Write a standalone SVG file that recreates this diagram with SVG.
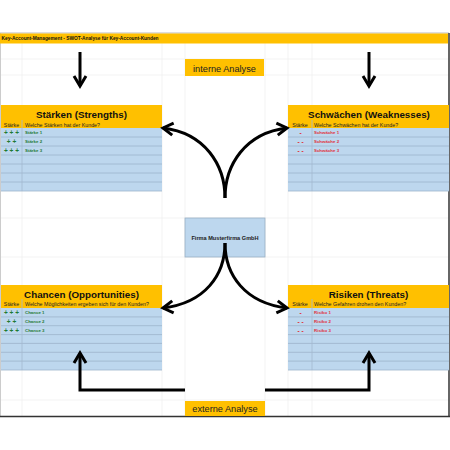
<svg xmlns="http://www.w3.org/2000/svg" width="450" height="450" viewBox="0 0 450 450">
<defs>
<style>
.grid{stroke:#F0F0F0;stroke-width:0.8}
.hdr{fill:#FFC000}
.body{fill:#BDD7EE}
.row{stroke:#9DB4CC;stroke-width:0.8}
.col{stroke:#A3B9CF;stroke-width:0.8}
.title{font-family:"Liberation Sans",Arial,sans-serif;font-weight:bold;font-size:9.8px;fill:#111;text-anchor:middle}
.sub{font-family:"Liberation Sans",Arial,sans-serif;font-size:5.3px;fill:#222}
.mid{text-anchor:middle}
.item{font-family:"Liberation Sans",Arial,sans-serif;font-size:4.4px;font-weight:bold}
.sym{font-family:"Liberation Sans",Arial,sans-serif;font-size:6.5px;font-weight:bold;text-anchor:middle}
.g{fill:#1F7A33}
.r{fill:#E0303A}
.lbl{font-family:"Liberation Sans",Arial,sans-serif;font-size:9.2px;fill:#222;text-anchor:middle}
.conn{fill:none;stroke:#000;stroke-width:3;stroke-linejoin:miter}
</style>
<marker id="ah" viewBox="0 0 14 14" markerWidth="14" markerHeight="14" refX="12.5" refY="7" orient="auto" markerUnits="userSpaceOnUse" overflow="visible">
<path d="M2.5,1 L12.5,7 L2.5,13" fill="none" stroke="#000" stroke-width="3"/>
</marker>
</defs>
<rect x="0" y="0" width="450" height="450" fill="#fff"/>
<g id="grid">
<line class="grid" x1="22" y1="43" x2="22" y2="416"/>
<line class="grid" x1="162" y1="43" x2="162" y2="416"/>
<line class="grid" x1="185" y1="43" x2="185" y2="416"/>
<line class="grid" x1="265" y1="43" x2="265" y2="416"/>
<line class="grid" x1="288" y1="43" x2="288" y2="416"/>
<line class="grid" x1="312" y1="43" x2="312" y2="416"/>
<line class="grid" x1="0" y1="59" x2="449" y2="59"/>
<line class="grid" x1="0" y1="75" x2="449" y2="75"/>
<line class="grid" x1="0" y1="218" x2="449" y2="218"/>
<line class="grid" x1="0" y1="257" x2="449" y2="257"/>
<line class="grid" x1="0" y1="400" x2="449" y2="400"/>
<line x1="0.5" y1="33" x2="0.5" y2="416" stroke="#CCCCCC" stroke-width="1"/>
<line x1="0" y1="33" x2="449" y2="33" stroke="#BBBBBB" stroke-width="1"/>
<line x1="449" y1="33" x2="449" y2="417" stroke="#333" stroke-width="1.5"/>
<line x1="0" y1="416.5" x2="450" y2="416.5" stroke="#333" stroke-width="1.5"/>
</g>
<g id="title-bar">
<rect x="0" y="33.5" width="448" height="10" fill="#FFC000"/>
<text x="1.5" y="40.3" font-family="Liberation Sans, Arial, sans-serif" font-size="4.8" font-weight="bold" fill="#111">Key-Account-Management - SWOT-Analyse für Key-Account-Kunden</text>
</g>
<g id="interne-analyse">
<rect x="185" y="59" width="79" height="17" class="hdr"/>
<text x="224.5" y="71.5" class="lbl">interne Analyse</text>
</g>
<g id="externe-analyse">
<rect x="185" y="401" width="80" height="15" class="hdr"/>
<text x="225" y="412" class="lbl">externe Analyse</text>
</g>
<g id="strengths">
<rect x="1" y="105" width="161" height="23" class="hdr"/>
<rect x="1" y="128" width="161" height="63" class="body"/>
<line class="row" x1="1" y1="137" x2="162" y2="137"/>
<line class="row" x1="1" y1="146" x2="162" y2="146"/>
<line class="row" x1="1" y1="155" x2="162" y2="155"/>
<line class="row" x1="1" y1="164" x2="162" y2="164"/>
<line class="row" x1="1" y1="173" x2="162" y2="173"/>
<line class="row" x1="1" y1="182" x2="162" y2="182"/>
<line class="row" x1="1" y1="191" x2="162" y2="191"/>
<line class="col" x1="22" y1="120" x2="22" y2="191"/>
<text x="81.5" y="118" class="title">Stärken (Strengths)</text>
<text x="11.5" y="126.5" class="sub mid">Stärke</text>
<text x="25" y="126.5" class="sub">Welche Stärken hat der Kunde?</text>
<text x="11.5" y="135" class="sym g">+ + +</text>
<text x="11.5" y="144" class="sym g">+ +</text>
<text x="11.5" y="153" class="sym g">+ + +</text>
<text x="25" y="134.3" class="item g">Stärke 1</text>
<text x="25" y="143.3" class="item g">Stärke 2</text>
<text x="25" y="152.3" class="item g">Stärke 3</text>
</g>
<g id="weaknesses">
<rect x="288" y="105" width="161" height="23" class="hdr"/>
<rect x="288" y="128" width="161" height="63" class="body"/>
<line class="row" x1="288" y1="137" x2="449" y2="137"/>
<line class="row" x1="288" y1="146" x2="449" y2="146"/>
<line class="row" x1="288" y1="155" x2="449" y2="155"/>
<line class="row" x1="288" y1="164" x2="449" y2="164"/>
<line class="row" x1="288" y1="173" x2="449" y2="173"/>
<line class="row" x1="288" y1="182" x2="449" y2="182"/>
<line class="row" x1="288" y1="191" x2="449" y2="191"/>
<line class="col" x1="312" y1="120" x2="312" y2="191"/>
<text x="369" y="118" class="title">Schwächen (Weaknesses)</text>
<text x="300" y="126.5" class="sub mid">Stärke</text>
<text x="314" y="126.5" class="sub">Welche Schwächen hat der Kunde?</text>
<text x="300.5" y="135" class="sym r">-</text>
<text x="300.5" y="144" class="sym r">- -</text>
<text x="300.5" y="153" class="sym r">- -</text>
<text x="314" y="134.3" class="item r">Schwäche 1</text>
<text x="314" y="143.3" class="item r">Schwäche 2</text>
<text x="314" y="152.3" class="item r">Schwäche 3</text>
</g>
<g id="opportunities">
<rect x="1" y="285" width="161" height="23" class="hdr"/>
<rect x="1" y="308" width="161" height="62" class="body"/>
<line class="row" x1="1" y1="316.9" x2="162" y2="316.9"/>
<line class="row" x1="1" y1="325.7" x2="162" y2="325.7"/>
<line class="row" x1="1" y1="334.6" x2="162" y2="334.6"/>
<line class="row" x1="1" y1="343.4" x2="162" y2="343.4"/>
<line class="row" x1="1" y1="352.3" x2="162" y2="352.3"/>
<line class="row" x1="1" y1="361.1" x2="162" y2="361.1"/>
<line class="row" x1="1" y1="370" x2="162" y2="370"/>
<line class="col" x1="22" y1="299" x2="22" y2="370"/>
<text x="81.5" y="297.5" class="title">Chancen (Opportunities)</text>
<text x="11.5" y="306" class="sub mid">Stärke</text>
<text x="25" y="306" class="sub">Welche Möglichkeiten ergeben sich für den Kunden?</text>
<text x="11.5" y="315" class="sym g">+ + +</text>
<text x="11.5" y="323.8" class="sym g">+ +</text>
<text x="11.5" y="332.7" class="sym g">+ + +</text>
<text x="25" y="314.3" class="item g">Chance 1</text>
<text x="25" y="323.1" class="item g">Chance 2</text>
<text x="25" y="332" class="item g">Chance 3</text>
</g>
<g id="threats">
<rect x="288" y="285" width="161" height="23" class="hdr"/>
<rect x="288" y="308" width="161" height="62" class="body"/>
<line class="row" x1="288" y1="316.9" x2="449" y2="316.9"/>
<line class="row" x1="288" y1="325.7" x2="449" y2="325.7"/>
<line class="row" x1="288" y1="334.6" x2="449" y2="334.6"/>
<line class="row" x1="288" y1="343.4" x2="449" y2="343.4"/>
<line class="row" x1="288" y1="352.3" x2="449" y2="352.3"/>
<line class="row" x1="288" y1="361.1" x2="449" y2="361.1"/>
<line class="row" x1="288" y1="370" x2="449" y2="370"/>
<line class="col" x1="312" y1="299" x2="312" y2="370"/>
<text x="368.5" y="297.5" class="title">Risiken (Threats)</text>
<text x="300" y="306" class="sub mid">Stärke</text>
<text x="314" y="306" class="sub">Welche Gefahren drohen den Kunden?</text>
<text x="300.5" y="315" class="sym r">-</text>
<text x="300.5" y="323.8" class="sym r">- -</text>
<text x="300.5" y="332.7" class="sym r">- -</text>
<text x="314" y="314.3" class="item r">Risiko 1</text>
<text x="314" y="323.1" class="item r">Risiko 2</text>
<text x="314" y="332" class="item r">Risiko 3</text>
</g>
<g id="center">
<rect x="185" y="218" width="80" height="39" fill="#BDD7EE" stroke="#9AAFC4" stroke-width="0.8"/>
<text x="225" y="239.5" font-family="Liberation Sans, Arial, sans-serif" font-size="5.6" font-weight="bold" fill="#222" text-anchor="middle">Firma Musterfirma GmbH</text>
</g>
<g id="connectors">
<path class="conn" d="M80,52 L80,86" marker-end="url(#ah)"/>
<path class="conn" d="M369,52 L369,86" marker-end="url(#ah)"/>
<path class="conn" d="M225,198 C225,165 205,133 163,128" marker-end="url(#ah)"/>
<path class="conn" d="M225,198 C225,165 245,133 287,128" marker-end="url(#ah)"/>
<path class="conn" d="M225,243 C225,275 205,303 163,308" marker-end="url(#ah)"/>
<path class="conn" d="M225,243 C225,275 245,303 287,308" marker-end="url(#ah)"/>
<path class="conn" d="M185,390 H80 V353" marker-end="url(#ah)"/>
<path class="conn" d="M265,390 H369 V353" marker-end="url(#ah)"/>
</g>
</svg>
